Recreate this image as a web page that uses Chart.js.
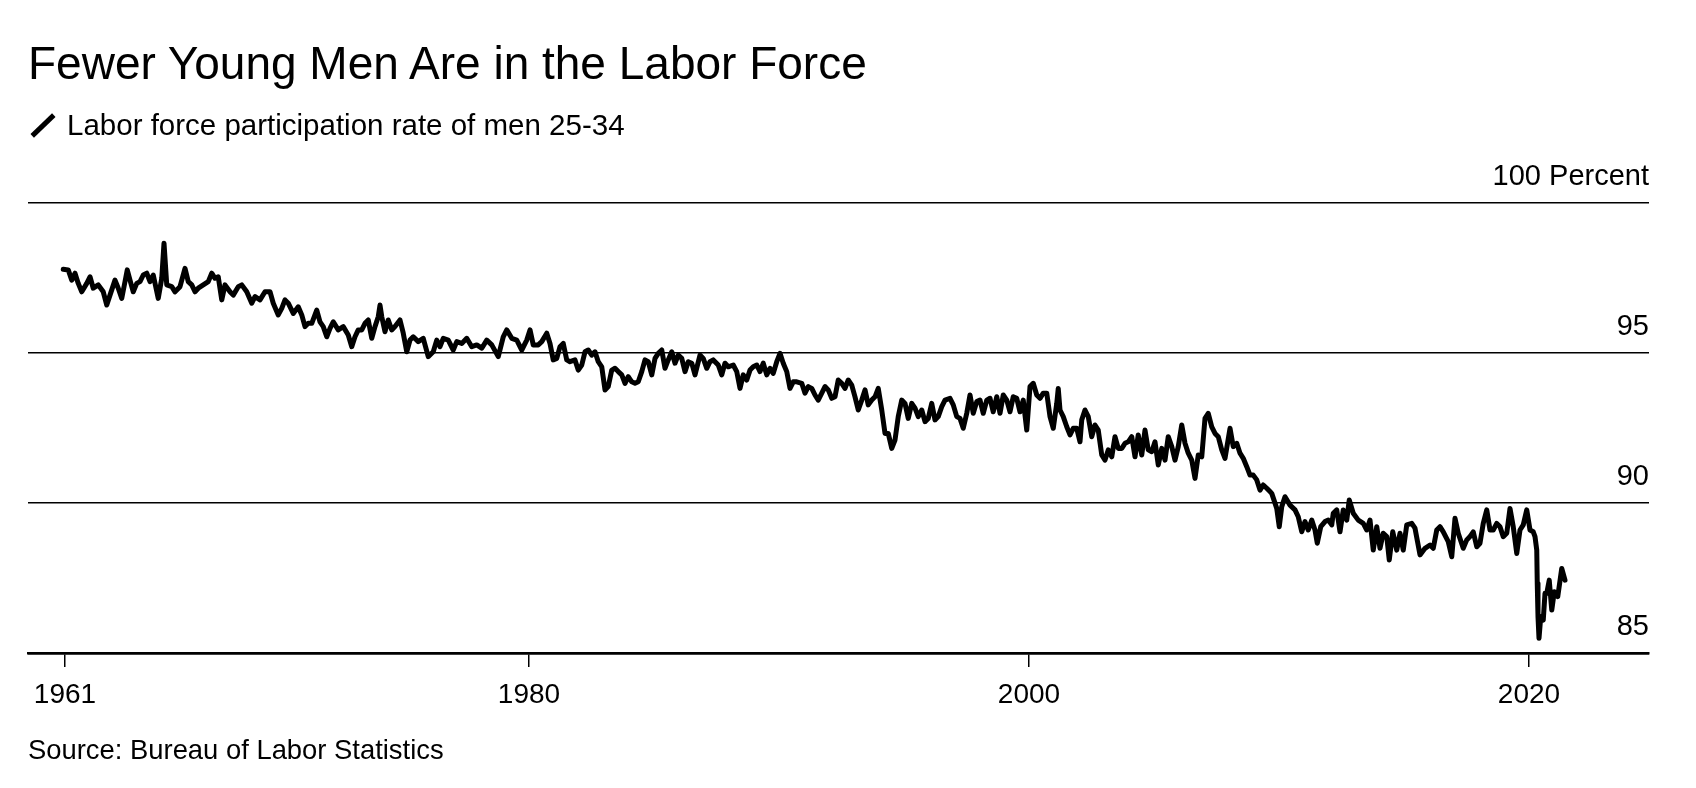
<!DOCTYPE html>
<html>
<head>
<meta charset="utf-8">
<script src="https://cdn.jsdelivr.net/npm/chart.js@4.4.1/dist/chart.umd.min.js"></script>
<style>
  html, body { margin: 0; padding: 0; background: #fff; }
  body { width: 1696px; height: 788px; position: relative; overflow: hidden;
         font-family: "Liberation Sans", Arial, Helvetica, sans-serif; color: #000; }
  #chart { position: absolute; left: 0; top: 0; }
  .txt { position: absolute; line-height: 1; white-space: nowrap; }
  #title { left: 28px; top: 40px; font-size: 46px; }
  #legend { left: 67px; top: 110px; font-size: 29.5px; }
  #legendIcon { position: absolute; left: 27.5px; top: 123px; width: 30px; height: 5px;
                background: #000; transform: rotate(-44deg); }
  #source { left: 28px; top: 736px; font-size: 27.4px; }
</style>
</head>
<body>
<canvas id="chart" width="1696" height="788"></canvas>
<div id="title" class="txt">Fewer Young Men Are in the Labor Force</div>
<div id="legendIcon"></div>
<div id="legend" class="txt">Labor force participation rate of men 25-34</div>
<div id="source" class="txt">Source: Bureau of Labor Statistics</div>
<script>
// Labor force participation rate of men 25-34 (year, percent)
const years = [
  1961.37,1961.57,1961.71,1961.84,1961.97,1962.11,1962.31,1962.44,1962.57,1962.77,
  1962.97,1963.11,1963.24,1963.44,1963.57,1963.71,1963.84,1963.93,1964.04,1964.17,
  1964.31,1964.44,1964.57,1964.71,1964.84,1964.97,1965.17,1965.31,1965.40,1965.51,
  1965.71,1965.84,1966.04,1966.24,1966.37,1966.51,1966.64,1966.77,1966.97,1967.17,
  1967.31,1967.44,1967.57,1967.71,1967.84,1968.04,1968.17,1968.37,1968.51,1968.71,
  1968.91,1969.04,1969.24,1969.44,1969.64,1969.77,1969.97,1970.11,1970.24,1970.37,
  1970.57,1970.77,1970.91,1971.04,1971.17,1971.31,1971.51,1971.64,1971.77,1971.91,
  1972.04,1972.17,1972.37,1972.57,1972.77,1972.91,1973.04,1973.17,1973.31,1973.44,
  1973.57,1973.71,1973.84,1973.97,1974.04,1974.11,1974.24,1974.37,1974.51,1974.64,
  1974.84,1974.97,1975.11,1975.24,1975.37,1975.57,1975.77,1975.97,1976.17,1976.31,
  1976.44,1976.57,1976.77,1976.97,1977.11,1977.31,1977.51,1977.71,1977.91,1978.11,
  1978.31,1978.51,1978.77,1978.97,1979.11,1979.31,1979.51,1979.71,1979.91,1980.04,
  1980.17,1980.37,
  1980.51,1980.71,1980.84,1980.97,1981.11,1981.24,1981.37,1981.51,1981.64,1981.84,
  1981.97,1982.11,1982.24,1982.37,1982.51,1982.64,1982.77,1982.91,1983.04,1983.17,
  1983.31,1983.44,1983.57,1983.71,1983.84,1983.97,1984.11,1984.24,1984.37,1984.51,
  1984.64,1984.77,1984.91,1985.04,1985.17,1985.31,1985.44,1985.57,1985.71,1985.84,
  1985.97,1986.11,1986.24,1986.37,1986.51,1986.64,1986.84,1986.97,1987.11,1987.24,
  1987.37,1987.57,1987.71,1987.84,1987.97,1988.17,1988.31,1988.44,1988.57,1988.71,
  1988.84,1988.97,1989.11,1989.24,1989.37,1989.51,1989.64,1989.77,1989.91,1990.04,
  1990.17,1990.31,1990.44,1990.57,1990.71,1990.91,1991.04,1991.17,1991.31,1991.44,
  1991.57,1991.71,1991.84,1991.97,1992.11,1992.24,1992.37,1992.51,1992.64,1992.77,
  1992.91,1993.04,1993.17,1993.31,1993.44,1993.57,1993.71,1993.84,1993.97,1994.11,
  1994.24,1994.37,1994.51,1994.64,1994.77,1994.91,1995.04,1995.17,1995.31,1995.44,
  1995.57,1995.71,1995.84,1995.97,1996.11,1996.24,1996.37,1996.51,1996.64,1996.84,
  1996.97,1997.11,1997.24,1997.37,1997.51,1997.64,1997.77,1997.91,1998.04,1998.17,
  1998.31,1998.44,1998.57,1998.71,1998.84,1998.97,1999.11,1999.24,1999.37,1999.51,
  1999.64,1999.77,1999.91,2000.04,2000.17,2000.31,
  2000.44,2000.57,2000.71,2000.84,2000.97,2001.11,2001.17,2001.24,2001.37,2001.51,
  2001.64,2001.77,2001.91,2002.04,2002.11,2002.24,2002.37,2002.51,2002.64,2002.77,
  2002.91,2003.04,2003.17,2003.31,2003.44,2003.57,2003.71,2003.84,2003.97,2004.11,
  2004.24,2004.37,2004.51,2004.64,2004.77,2004.91,2005.04,2005.17,2005.31,2005.44,
  2005.57,2005.71,2005.84,2005.97,2006.11,2006.24,2006.37,2006.51,2006.64,2006.77,
  2006.91,2007.04,2007.17,2007.31,2007.44,2007.57,2007.71,2007.84,2008.04,2008.17,
  2008.31,2008.44,2008.57,2008.71,2008.84,2008.97,2009.11,2009.24,2009.37,2009.51,
  2009.64,
  2009.71,2009.91,2010.01,2010.11,2010.24,2010.44,2010.64,2010.77,2010.91,2011.04,
  2011.17,2011.31,2011.44,2011.53,2011.67,2011.84,
  2011.97,2012.11,2012.17,2012.31,2012.44,2012.57,2012.71,2012.81,2012.97,2013.17,
  2013.37,2013.51,2013.64,2013.77,2013.91,2014.04,2014.17,2014.31,2014.41,2014.55,
  2014.71,2014.84,2014.97,2015.11,2015.31,2015.44,2015.64,2015.84,2016.04,2016.17,
  2016.31,2016.44,2016.57,2016.77,2016.91,2017.04,2017.17,2017.37,2017.51,2017.64,
  2017.77,2017.91,2018.04,2018.17,2018.31,2018.44,2018.57,2018.71,2018.84,2018.97,
  2019.11,2019.24,2019.37,2019.51,2019.64,2019.77,2019.91,2020.04,2020.17,2020.24,
  2020.31,2020.33,2020.36,2020.40,2020.47,2020.57,2020.64,2020.71,2020.81,2020.91,
  2021.01,2021.15,2021.31,2021.44
];

const rates = [
  97.79,97.77,97.43,97.66,97.32,97.04,97.32,97.54,97.16,97.27,
  97.04,96.60,96.93,97.43,97.16,96.82,97.38,97.77,97.43,97.04,
  97.32,97.38,97.60,97.66,97.38,97.60,96.82,97.49,98.66,97.27,
  97.21,97.04,97.21,97.82,97.38,97.27,97.04,97.16,97.27,97.38,
  97.66,97.49,97.54,96.77,97.27,97.04,96.93,97.21,97.27,97.04,
  96.66,96.88,96.77,97.04,97.04,96.66,96.27,96.49,96.77,96.66,
  96.32,96.54,96.27,95.88,95.99,95.99,96.43,96.04,95.88,95.54,
  95.82,96.04,95.77,95.88,95.60,95.21,95.54,95.77,95.77,95.99,
  96.10,95.49,95.88,96.21,96.60,96.21,95.71,96.10,95.77,95.88,
  96.10,95.66,95.04,95.43,95.54,95.38,95.49,94.88,95.04,95.43,
  95.21,95.49,95.43,95.10,95.38,95.32,95.49,95.21,95.27,95.16,
  95.43,95.27,94.88,95.54,95.77,95.49,95.43,95.10,95.43,95.77,
  95.27,95.27,
  95.38,95.66,95.32,94.77,94.82,95.21,95.32,94.77,94.71,94.77,
  94.43,94.60,95.04,95.10,94.93,95.04,94.71,94.54,93.77,93.88,
  94.43,94.49,94.38,94.27,93.99,94.21,94.04,93.99,94.04,94.38,
  94.77,94.71,94.27,94.82,94.99,95.10,94.49,94.77,95.04,94.66,
  94.93,94.82,94.38,94.71,94.66,94.27,94.93,94.82,94.49,94.71,
  94.77,94.60,94.27,94.66,94.54,94.60,94.38,93.82,94.27,94.10,
  94.43,94.54,94.60,94.38,94.66,94.27,94.49,94.32,94.71,94.99,
  94.66,94.38,93.82,94.04,94.04,93.99,93.66,93.88,93.82,93.60,
  93.43,93.66,93.88,93.77,93.49,93.54,94.10,93.99,93.82,94.10,
  93.93,93.54,93.10,93.43,93.77,93.27,93.43,93.54,93.82,93.10,
  92.32,92.32,91.82,92.10,92.88,93.43,93.32,92.82,93.32,93.16,
  92.88,93.10,92.71,92.82,93.32,92.77,92.88,93.21,93.43,93.49,
  93.27,92.88,92.82,92.49,92.99,93.60,92.99,93.38,93.43,92.99,
  93.43,93.49,93.04,93.54,92.99,93.60,93.43,93.04,93.54,93.49,
  93.04,93.43,92.43,93.88,93.99,93.60,
  93.49,93.66,93.66,92.88,92.49,93.32,93.82,93.10,92.88,92.54,
  92.27,92.49,92.49,92.04,92.77,93.10,92.88,92.21,92.60,92.43,
  91.60,91.43,91.77,91.54,92.21,91.82,91.82,91.99,92.04,92.21,
  91.54,92.27,91.60,92.43,91.77,91.71,92.04,91.27,91.82,91.43,
  92.21,91.88,91.43,91.88,92.60,91.99,91.66,91.43,90.82,91.60,
  91.54,92.82,92.99,92.54,92.32,92.21,91.77,91.49,92.49,91.88,
  91.99,91.66,91.49,91.21,90.93,90.93,90.77,90.43,90.60,90.49,
  90.38,
  90.32,89.82,89.21,89.88,90.21,89.93,89.77,89.54,89.04,89.38,
  89.10,89.43,89.10,88.66,89.21,89.38,
  89.43,89.27,89.66,89.77,89.04,89.77,89.43,90.10,89.66,89.43,
  89.32,89.10,89.43,88.43,89.21,88.49,88.99,88.88,88.10,89.04,
  88.43,88.99,88.43,89.27,89.32,89.16,88.27,88.49,88.60,88.49,
  89.10,89.21,89.04,88.71,88.21,89.49,88.99,88.49,88.77,88.88,
  89.04,88.54,88.66,89.32,89.77,89.10,89.10,89.32,89.21,88.88,
  88.99,89.82,89.21,88.32,89.10,89.27,89.77,89.10,89.04,88.88,
  88.43,87.32,86.21,85.49,86.21,86.10,86.99,86.99,87.43,86.43,
  87.04,86.88,87.82,87.43
];

const xTickYears = [1961.44, 1980, 2000, 2020];
const xTickLabels = ['1961', '1980', '2000', '2020'];
const yTicks = [85, 90, 95, 100];
const yUnit = 'Percent';

const points = years.map((y, i) => ({ x: y, y: rates[i] }));

const xFont = { family: '"Liberation Sans", Arial, sans-serif', size: 28, lineHeight: 1.2 };
const yFont = { family: '"Liberation Sans", Arial, sans-serif', size: 29, lineHeight: 1.2 };

new Chart(document.getElementById('chart'), {
    type: 'line',
    data: {
        datasets: [{
            data: points,
            borderColor: '#000',
            borderWidth: 5,
            borderJoinStyle: 'round',
            borderCapStyle: 'round',
            pointRadius: 0,
            tension: 0,
            fill: false
        }]
    },
    options: {
        responsive: false,
        animation: false,
        devicePixelRatio: 1,
        layout: { padding: { left: 28, right: 47, top: 203, bottom: 55 } },
        plugins: { legend: { display: false }, tooltip: { enabled: false } },
        scales: {
            x: {
                type: 'linear',
                position: 'bottom',
                min: 1959.96,
                max: 2024.8,
                afterBuildTicks: (axis) => { axis.ticks = xTickYears.map(v => ({ value: v })); },
                afterFit: (axis) => { axis.height = 80; },
                ticks: {
                    color: '#000',
                    font: xFont,
                    padding: 11,
                    maxRotation: 0,
                    autoSkip: false,
                    callback: (v) => xTickLabels[xTickYears.indexOf(v)]
                },
                grid: { display: true, drawOnChartArea: false, drawTicks: true, tickLength: 14, color: '#000', lineWidth: 1.5 },
                border: { display: true, color: '#000', width: 2.5 }
            },
            y: {
                position: 'right',
                min: 85,
                max: 100,
                afterBuildTicks: (axis) => { axis.ticks = yTicks.map(v => ({ value: v })); },
                afterFit: (axis) => { axis.width = 0; },
                ticks: {
                    mirror: true,
                    padding: 0,
                    labelOffset: -26,
                    color: '#000',
                    font: yFont,
                    callback: (v) => v === 100 ? v + ' ' + yUnit : String(v)
                },
                grid: {
                    drawTicks: false,
                    color: '#000',
                    lineWidth: (ctx) => ctx.tick && ctx.tick.value === 85 ? 2.5 : 1.5
                },
                border: { display: false }
            }
        }
    }
});
</script>
</body>
</html>
